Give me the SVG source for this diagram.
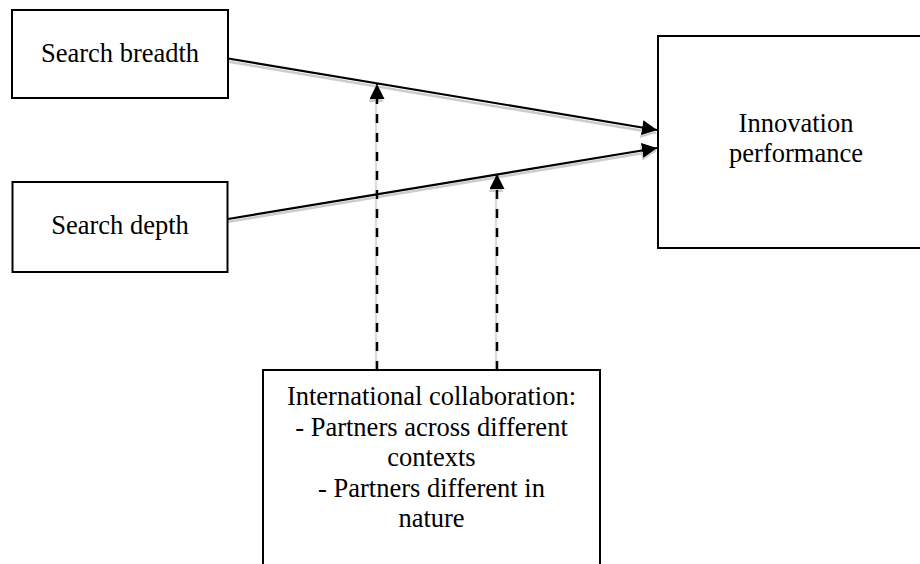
<svg xmlns="http://www.w3.org/2000/svg" width="920" height="564" viewBox="0 0 920 564">
  <style>
    .box { fill: #ffffff; stroke: #000000; stroke-width: 2; }
    .lbl { font-family: "Liberation Serif", "Times New Roman", serif; font-size: 26.5px; fill: #000000; text-anchor: middle; }
    .ln { stroke: #000000; stroke-width: 2.2; fill: none; }
    .sh { stroke: #cccccc; stroke-width: 2.5; fill: none; }
    .dash { stroke: #000000; stroke-width: 2.5; fill: none; stroke-dasharray: 9 10; }
    .dsh { stroke: #dddddd; stroke-width: 2.5; fill: none; }
  </style>
  <defs>
    <marker id="ah" markerUnits="userSpaceOnUse" markerWidth="16" markerHeight="16" refX="15" refY="7.5" orient="auto">
      <path d="M0,0 L15,7.5 L0,15 z" fill="#000000"/>
    </marker>
    <marker id="ahs" markerUnits="userSpaceOnUse" markerWidth="16" markerHeight="16" refX="15" refY="7.5" orient="auto">
      <path d="M0,0 L15,7.5 L0,15 z" fill="#cccccc"/>
    </marker>
  </defs>

  <g id="connectors">
    <g id="shadows" transform="translate(-1,3)">
      <line class="sh" x1="228" y1="58.5" x2="657" y2="130" marker-end="url(#ahs)"/>
      <line class="sh" x1="228" y1="219" x2="657" y2="148" marker-end="url(#ahs)"/>
      <line class="dsh" x1="377" y1="370" x2="377" y2="84" marker-end="url(#ahs)"/>
      <line class="dsh" x1="497" y1="370" x2="497" y2="174" marker-end="url(#ahs)"/>
    </g>
    <line class="ln" x1="228" y1="58.5" x2="657" y2="130" marker-end="url(#ah)"/>
    <line class="ln" x1="228" y1="219" x2="657" y2="148" marker-end="url(#ah)"/>
    <line class="dash" x1="377" y1="370" x2="377" y2="84" marker-end="url(#ah)"/>
    <line class="dash" x1="497" y1="370" x2="497" y2="174" marker-end="url(#ah)"/>
  </g>

  <g id="search-breadth">
    <rect class="box" x="12" y="10" width="216" height="88"/>
    <text class="lbl" x="120" y="62">Search breadth</text>
  </g>

  <g id="search-depth">
    <rect class="box" x="12.5" y="182" width="215" height="90"/>
    <text class="lbl" x="120" y="234">Search depth</text>
  </g>

  <g id="innovation-performance">
    <rect class="box" x="658" y="36" width="278" height="212"/>
    <text class="lbl" x="796" y="132">Innovation</text>
    <text class="lbl" x="796" y="162">performance</text>
  </g>

  <g id="international-collaboration">
    <rect class="box" x="263" y="370" width="337" height="220"/>
    <text class="lbl" x="431.5" y="405">International collaboration:</text>
    <text class="lbl" x="431.5" y="435.5">- Partners across different</text>
    <text class="lbl" x="431.5" y="466">contexts</text>
    <text class="lbl" x="431.5" y="496.5">- Partners different in</text>
    <text class="lbl" x="431.5" y="527">nature</text>
  </g>
</svg>
